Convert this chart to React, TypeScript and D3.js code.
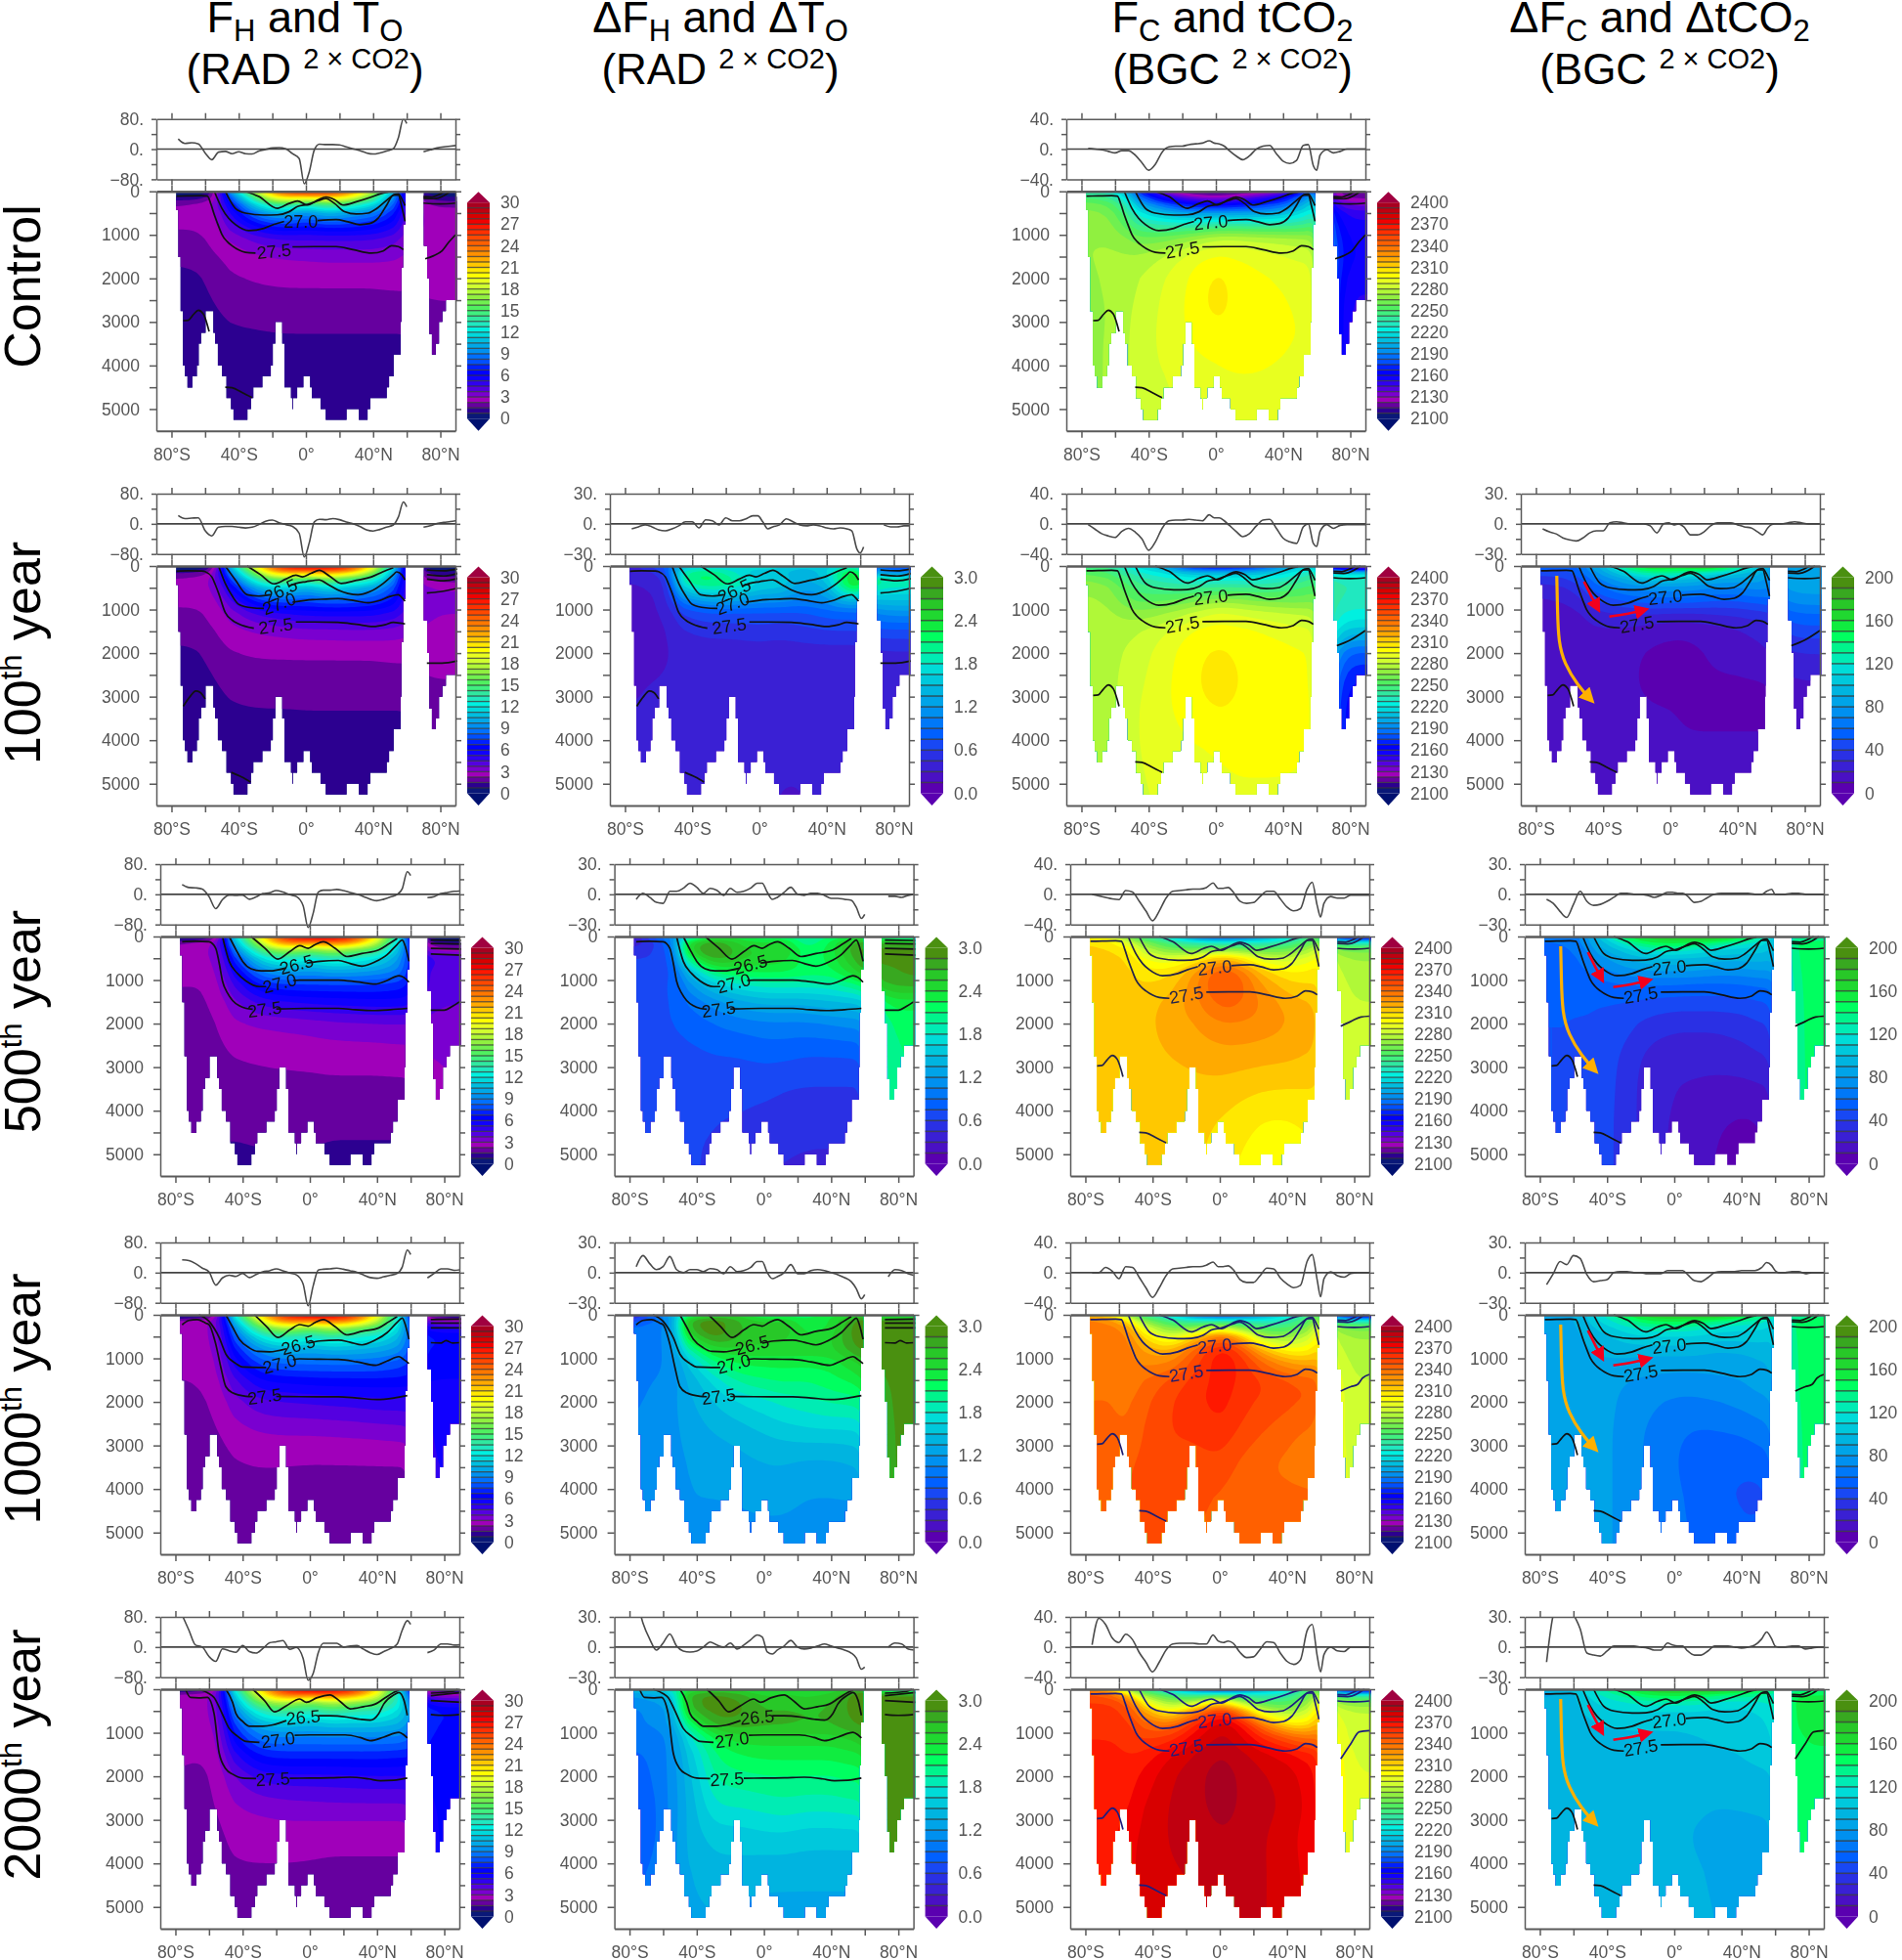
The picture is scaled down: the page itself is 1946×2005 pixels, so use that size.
// @ts-nocheck
import { useEffect, useRef } from 'react';
import * as d3 from 'd3';

// ---- shared grid and bathymetry ----
const fieldLats = [-78, -65, -55, -45, -30, -15, 0, 12, 25, 40, 52, 60, 72, 90];
const fieldDepths = [0, 50, 150, 300, 500, 800, 1100, 1500, 2000, 2700, 3400, 4200, 5500];

const atlanticLats = [-77.3, -75.9, -74.6, -73.2, -72, -70.5, -67.6, -64.9, -63.8, -62.4, -59.7, -55.1, -54.1, -52.4, -49.9, -47.3, -44.6, -43.1, -34.8, -32.7, -31.3, -25.9, -20.9, -19.7, -18.2, -14.1, -12.8, -8.9, -8.1, -7.7, -5.2, -1.5, 2.5, 3.5, 8.7, 11.8, 24.2, 31.5, 36.7, 38.3, 48.1, 49.5, 52.2, 56.4, 56.8, 57.8, 59.1];
const atlanticDepths = [430, 1510, 2750, 4000, 4250, 4510, 4250, 4000, 3500, 3250, 2750, 3250, 3500, 4000, 4250, 4750, 5000, 5250, 5000, 4750, 4500, 4250, 4000, 3500, 3000, 3500, 4500, 4750, 5000, 4750, 4500, 4250, 4500, 4750, 5000, 5250, 5000, 5250, 5000, 4750, 4500, 4250, 3750, 3000, 1750, 760, 760];
const arcticLats = [70.2, 72.2, 73.5, 75, 77.3, 79.2, 81.2, 83.3, 90];
const arcticDepths = [1250, 2000, 3280, 3750, 3500, 3000, 2750, 2500, 2500];

// ---- colour bars ----
const rainbowColors = ['#0a1878', '#2c0090', '#66009f', '#a000ba', '#7a00d0', '#5400e0', '#3000f0', '#1000ff', '#0000ff', '#0020ff', '#0050ff', '#0070ff', '#0090f0', '#00a8e8', '#00bee0', '#00d8dc', '#00f0e0', '#20e8c0', '#30e8a0', '#40f080', '#50f060', '#70f050', '#90f040', '#b0f838', '#d0ff30', '#e8ff20', '#ffff00', '#ffe800', '#ffc800', '#ffaa00', '#ff9000', '#ff7800', '#ff6000', '#ff4800', '#ff3000', '#ff1800', '#f00000', '#d80000', '#c00010', '#a80020'];
const deltaColors = ['#5a00b0', '#4a10c4', '#3a20d4', '#2a30e4', '#1848f4', '#0060ff', '#0078f8', '#0090f0', '#00a4e8', '#00b4e0', '#00c8dc', '#00dcd8', '#00ecb4', '#00f48c', '#00ff60', '#10ec40', '#20d830', '#28c828', '#38a820', '#4a9010'];
const tempTicks = [0, 3, 6, 9, 12, 15, 18, 21, 24, 27, 30];
const dicTicks = [2100, 2130, 2160, 2190, 2220, 2250, 2280, 2310, 2340, 2370, 2400];
const dTempTicks = [0, 0.6, 1.2, 1.8, 2.4, 3];
const dDicTicks = [0, 40, 80, 120, 160, 200];

// ---- surface flux lines ----
const fluxLats = [-76, -72, -68, -64, -60, -56, -52, -48, -44, -40, -36, -32, -28, -24, -20, -16, -12, -8, -4, -1, 2, 5, 8, 12, 16, 20, 24, 28, 32, 36, 40, 44, 48, 52, 55, 58, 60, 62, 66, 70, 74, 78, 82, 86, 90];
const fhControl = [27, 15, 17, 14, -10, -28, -8, -6, -12, -7, -12, -13, -5, -1, 3, 4, 1, -12, -25, -92, -60, -2, 13, 12, 12, 11, 6, 1, -4, -10, -13, -10, -5, 1, 30, 80, 68, null, null, -7, -2, 3, 6, 8, 10];
const fhRad100 = [22, 14, 15, 16, -18, -32, -9, -7, -7, -9, -11, -9, -2, 7, 10, 3, -2, -7, -25, -88, -50, 5, 12, 11, 14, 11, 5, 0, -7, -16, -19, -15, -9, -3, 18, 58, 45, null, null, -9, -5, 1, 4, 6, 9];
const fhRad500 = [26, 18, 17, 14, -6, -38, -14, -2, -3, -2, -13, -7, 2, 4, 10, 6, -1, -6, -30, -88, -50, 6, 11, 11, 13, 10, 5, 0, -6, -13, -17, -13, -7, 0, 15, 60, 50, null, null, -9, -6, 2, 5, 8, 9];
const fhRad1000 = [34, 32, 24, 12, 2, -33, -14, -7, -10, -2, -13, -5, 2, 5, 10, 5, -1, -6, -30, -88, -35, 7, 9, 10, 12, 9, 5, 1, -6, -13, -15, -11, -7, -2, 15, 60, 48, null, null, -14, -2, 10, 10, 6, 8];
const fhRad2000 = [85, 45, 5, 0, -25, -38, -5, -10, -14, 4, -12, -16, -4, 11, 14, 17, -6, -1, -30, -88, -70, -15, 10, 10, 10, 0, 3, 4, -6, -15, -20, -12, -4, 8, 45, 70, 60, null, null, -15, -8, 8, 8, 5, 6];
const dfhRad100 = [-5, -3, -1, -3, -6, -7, -5, -2, 2, 2, -4, 4, 3, -1, 6, 3, 3, 5, 8, 8, 2, -5, -3, -1, 5, 2, -1, -2, -1, -2, -4, -5, -4, -5, -7, -25, -29, -23, null, null, -1, -3, -3, -2, -2];
const dfhRad500 = [-5, 1, -3, -8, -9, 3, 3, 6, 11, 7, 1, 6, 4, -1, 6, 2, 3, 6, 11, 11, 2, -5, -3, 2, 7, 0, -1, 1, 1, -1, -4, -4, -5, -6, -13, -24, -20, null, null, null, -2, -2, -3, -1, 0];
const dfhRad1000 = [6, 17, 9, 3, 6, 16, 3, 0, 3, 3, 1, 4, 3, -1, 6, 1, 2, 5, 11, 11, 0, -6, -4, 0, 8, -1, -1, 2, 3, 2, 0, -2, -5, -9, -16, -26, -22, null, null, null, -4, 3, 2, -1, -3];
const dfhRad2000 = [50, 24, 8, -3, 4, 13, 1, -4, -5, -4, 0, 5, 2, 0, 4, -2, 2, 7, 12, 10, -5, -7, -3, 1, 6.5, 0, -2, -1, 1, 3, 1, -1, -3, -6, -11, -22, -20, null, null, null, 0, 4, 3, -2, -3];
const fcControl = [1, 0, -1, -3, -5, -2, -2, -8, -18, -28, -20, -4, 3, 4, 4, 6, 7, 8, 11, 8, 7, 4, -2, -9, -14, -9, 0, 4, 5, -6, -16, -19, -15, 5, 6, -22, -28, -8, -1, -5, -3, 0, 0, 0, 0];
const fcBgc100 = [-1, -7, -13, -16, -18, -10, -6, -11, -20, -35, -24, -6, 4, 5, 5, 6, 5, 4, 12, 8, 8, 4, -2, -10, -17, -13, -3, 5, 6, -6, -19, -24, -26, -4, 0, -26, -30, -10, -1, -6, -2, -1, -1, -1, -1];
const fcBgc500 = [0, -2, -4, -6, -7, 5, 3, -9, -22, -35, -22, -5, 4, 5, 6, 7, 7, 9, 15, 8, 8, 9, 3, -9, -12, -11, -3, 4, 4, -6, -17, -22, -19, 7, 16, -15, -30, -12, -3, -5, -5, -1, -1, -1, -1];
const fcBgc1000 = [0, 0, 7, 2, -8, 8, 7, -6, -20, -33, -20, -4, 5, 6, 7, 8, 8, 10, 14, 8, 8, 9, 4, -9, -13, -13, -4, 6, 5, -7, -15, -20, -17, 15, 24, -10, -32, -8, 1, -4, -6, -1, 0, 0, 0];
const fcBgc2000 = [3, 38, 30, 12, 6, 17, 10, -7, -20, -33, -20, -4, 4, 5, 5, 5, 4, 4, 16, 8, 6, 8, 5, -7, -14, -13, -3, 7, 6, -8, -19, -23, -17, 22, 30, -12, -33, -10, 0, -5, -6, 0, 0, 0, 0];
const dfcBgc100 = [-5, -8, -10, -14, -16, -17, -14, -9, -7, -7, 1, 2, 1, 0, 0, 0, -2, -9, 0, 1, -1, 0, -3, -11, -11, -8, -2, 1, 1, 1, -1, -3, -4, -8, -11, -4, -1, 0, 0, 1, 2, 1, 0, 0, 0];
const dfcBgc500 = [-5, -9, -17, -23, -10, 3, -7, -11, -10, -7, -3, 1, 1, 0, 0, -1, -3, -1, 2, 2, 1, 1, -2, -8, -7, -3, 0, 1, 1, 1, 1, 1, 0, 0, 3, 5, 0, 0, 0, 1, 1, 0, 0, 0, 0];
const dfcBgc1000 = [-12, -1, 11, 8, 17, 14, -2, -9, -8, -7, 0, 1, 1, 0, 0, -1, -1, -1, 2, 2, 2, 2, -2, -8, -9, -5, 0, 1, 1, 1, 2, 2, 2, 5, 10, 7, 2, 0, 0, 1, 1, -1, 0, 0, 0];
const dfcBgc2000 = [-15, 32, 45, 50, 33, 18, -6, -8, -9, -4, 1, 1, 1, 1, 0, -1, -3, -3, 4, 2, 1, 1, -4, -8, -8, -4, 1, 1, 1, 0, -1, 0, 2, 8, 15, 8, 1, 0, 0, 1, 1, -2, -1, 0, 0];

// ---- temperature sections ----
const tempControl = [
  [0, 0, 1, 10, 18, 25, 27, 26, 25, 18, 10, 5, 0, 0],
  [0, 0, 1.5, 9, 17, 24, 25, 25, 23, 17, 10, 5, 0, 0],
  [1, 1, 2, 7.5, 15, 21, 20, 21, 20, 15, 9, 5, 1, 1],
  [2.2, 2.5, 3, 6, 12, 15, 13, 15, 14, 12, 8, 5, 2, 2],
  [2.5, 2.5, 2.7, 5, 9, 11, 9, 11, 10, 9, 7, 4, 2.7, 2.7],
  [2.3, 2.3, 2.6, 4, 6, 7, 6.5, 7, 7, 6.5, 5.5, 3.8, 2.8, 2.8],
  [2.1, 2.1, 2.4, 3, 4, 4.5, 4.5, 4.5, 4.5, 4.5, 4, 3.3, 2.6, 2.6],
  [1.7, 1.8, 2.2, 2.4, 2.8, 3, 3.1, 3.2, 3.2, 3.2, 3.1, 2.9, 2.6, 2.8],
  [1.2, 1.3, 1.8, 2.2, 2.3, 2.4, 2.4, 2.4, 2.4, 2.4, 2.5, 2.5, 2.4, 2.4],
  [1, 1.1, 1.4, 1.8, 1.9, 1.9, 1.9, 1.9, 1.9, 1.9, 1.9, 1.9, 2.2, 2.2],
  [0.9, 0.9, 1, 1.2, 1.3, 1.4, 1.4, 1.4, 1.4, 1.4, 1.4, 1.4, 2, 2],
  [0.8, 0.8, 0.9, 1, 1, 1, 1, 1, 1, 1, 1, 1, 2, 2],
  [0.8, 0.8, 0.8, 0.8, 0.8, 0.8, 0.8, 0.8, 0.8, 0.8, 0.8, 0.8, 2, 2],
];
const tempRad100 = [
  [0, 0, 1, 11, 20, 27, 29, 28, 27, 20, 11, 5, 0, 0],
  [0, 0, 1.5, 10, 19, 26, 27, 27, 26, 19, 11, 5, 0, 0],
  [1.5, 1.5, 2.5, 9, 17, 23, 22, 23, 22, 17, 10, 5, 1, 1],
  [2.3, 2.6, 3, 7, 14, 16.5, 14.5, 16.5, 15, 13.5, 9, 5, 1.8, 1.8],
  [2.6, 2.7, 3, 5.5, 10.5, 12, 10, 12, 11, 10, 8, 4.5, 3, 3],
  [2.4, 2.4, 2.7, 4, 7, 8, 7.5, 8, 8, 7.5, 6.5, 4.5, 3.2, 3.2],
  [2.1, 2.1, 2.5, 3.2, 4.5, 5, 5.5, 5.5, 5.5, 5.5, 5, 4.3, 3, 3],
  [1.8, 1.8, 2.2, 2.7, 3, 3.2, 3.4, 3.4, 3.5, 3.5, 3.4, 3.2, 2.8, 2.8],
  [1.3, 1.4, 1.8, 2.2, 2.3, 2.3, 2.3, 2.3, 2.3, 2.3, 2.4, 2.4, 2.5, 2.5],
  [1, 1.1, 1.4, 1.8, 1.9, 1.9, 1.9, 1.9, 1.9, 1.9, 1.9, 1.9, 2.2, 2.2],
  [0.9, 0.9, 1, 1.3, 1.4, 1.4, 1.45, 1.45, 1.45, 1.45, 1.45, 1.45, 2, 2],
  [0.8, 0.8, 0.9, 1, 1, 1, 1, 1, 1, 1, 1, 1, 2, 2],
  [0.8, 0.8, 0.8, 0.8, 0.8, 0.8, 0.8, 0.8, 0.8, 0.8, 0.8, 0.8, 2, 2],
];
const tempRad500 = [
  [0, 0.5, 1.5, 12, 20, 27, 29, 28, 27, 20, 13, 6, 0, 0],
  [0.5, 1, 2, 11, 19, 26, 27, 27, 26, 19, 13, 6, 0, 0],
  [2, 2.7, 3, 10, 18, 24, 23, 24, 23, 18, 12, 7, 1, 1],
  [2.7, 2.9, 3, 8.5, 15, 18, 16, 18, 16.5, 15, 11, 7, 2.5, 2.5],
  [2.9, 2.9, 3, 7, 12, 13.5, 12, 13.5, 13, 12, 10, 7, 4.5, 4.5],
  [2.7, 2.6, 2.9, 5.5, 9, 10, 9.5, 10, 10, 9.5, 9, 7, 4, 4],
  [2.3, 2.2, 2.8, 4.5, 7, 7.5, 7.5, 7.5, 7.5, 7.5, 7.2, 6.7, 4, 4],
  [2, 2.1, 2.6, 3.4, 4.8, 5.2, 5.5, 5.6, 5.7, 5.8, 5.8, 5.7, 3.8, 3.8],
  [1.6, 1.8, 2.3, 2.9, 3, 3.1, 3.2, 3.4, 3.5, 3.6, 3.6, 3.6, 3.5, 3.5],
  [1.5, 1.7, 2, 2.3, 2.4, 2.5, 2.6, 2.6, 2.6, 2.6, 2.7, 2.7, 3, 3],
  [1.5, 1.6, 1.8, 1.9, 2, 2, 2, 2.1, 2.1, 2.1, 2.1, 2.1, 3, 3],
  [1.5, 1.5, 1.6, 1.6, 1.7, 1.7, 1.7, 1.6, 1.6, 1.6, 1.6, 1.6, 3, 3],
  [1.5, 1.5, 1.4, 1.3, 1.3, 1.3, 1.3, 1.3, 1.3, 1.3, 1.3, 1.3, 3, 3],
];
const tempRad1000 = [
  [0.2, 0.5, 2, 12, 21, 27, 29, 28, 27, 20, 13, 7, 1, 1],
  [0.7, 1, 2.5, 12, 20, 26, 27, 27, 26, 19, 13, 7, 1, 1],
  [2.5, 2.9, 3, 10.5, 18.5, 24, 23, 24, 23, 18, 12.5, 8, 3, 3],
  [2.9, 2.9, 3, 9, 15.5, 18, 16, 18, 16.5, 15, 12, 8, 5, 5],
  [2.9, 2.9, 3, 8, 12.5, 14, 12.5, 14, 13, 12.5, 11, 8, 6.8, 6.8],
  [2.8, 2.9, 2.9, 6.5, 9.5, 10.5, 10, 10.5, 10.5, 10, 9.5, 8, 6.5, 6.5],
  [2.5, 2.6, 2.9, 5.5, 8, 8.5, 8.5, 8.5, 8.5, 8.5, 8, 7.5, 6.3, 6.3],
  [2.2, 2.3, 2.8, 4.2, 6, 6.2, 6.4, 6.5, 6.5, 6.5, 6.5, 6.4, 6, 6],
  [2, 2.1, 2.5, 3.4, 4.3, 4.5, 4.6, 4.7, 4.8, 5, 5, 5, 5.5, 5.5],
  [1.8, 1.9, 2.2, 2.6, 2.9, 3, 3, 3.05, 3.1, 3.2, 3.3, 3.4, 5.5, 5.5],
  [1.7, 1.7, 1.9, 2.2, 2.3, 2.25, 2.2, 2.2, 2.2, 2.2, 2.2, 2.2, 5.5, 5.5],
  [1.6, 1.6, 1.8, 1.9, 1.9, 1.9, 1.9, 1.9, 1.9, 1.9, 1.9, 1.9, 5, 5],
  [1.5, 1.5, 1.7, 1.8, 1.8, 1.8, 1.8, 1.8, 1.8, 1.8, 1.6, 1.6, 5, 5],
];
const tempRad2000 = [
  [0.5, 0.5, 2, 13, 22, 27, 29, 28, 27, 21, 13, 7, 1, 1],
  [1, 1.5, 2.8, 12, 20, 26, 27, 27, 26, 20, 13, 7, 1, 1],
  [2.6, 2.9, 3, 11, 19, 24, 23, 24, 23, 19, 13, 8, 3, 3],
  [2.9, 2.9, 3, 10, 16.5, 18, 16, 18, 17, 16, 13, 9, 5, 5],
  [2.9, 2.9, 3, 9, 13.5, 14.5, 13, 14.5, 13.5, 13.5, 12, 10, 6.8, 6.8],
  [2.8, 2.9, 2.9, 7.5, 10.5, 11, 10.5, 11, 11, 11, 10.5, 9.5, 6.6, 6.6],
  [2.6, 2.6, 2.8, 6.5, 9, 9, 9, 9, 9, 9, 9, 8.5, 6.5, 6.5],
  [2.4, 2.3, 2.7, 5, 7, 7.2, 7.2, 7.2, 7.2, 7.2, 7, 7, 6.4, 6.4],
  [2.2, 2, 2.5, 3.6, 4.8, 5, 5, 5, 5.1, 5.2, 5.2, 5.2, 6.4, 6.4],
  [2, 1.9, 2.3, 2.9, 3.1, 3.3, 3.4, 3.5, 3.5, 3.5, 3.5, 3.5, 6.2, 6.2],
  [1.8, 1.8, 2, 2.5, 2.6, 2.6, 2.5, 2.4, 2.4, 2.4, 2.4, 2.4, 6.2, 6.2],
  [1.7, 1.7, 1.9, 2.1, 2.1, 2.1, 2.1, 2.1, 2.1, 2.1, 2.1, 2.1, 6.2, 6.2],
  [1.7, 1.7, 1.9, 2, 2, 2, 2, 2, 2, 2, 2, 2, 6.2, 6.2],
];

// ---- temperature anomaly sections ----
const dTempRad100 = [
  [0.3, 0.6, 0.8, 1.4, 1.6, 1.6, 1.7, 1.6, 1.5, 1.5, 1.8, 1.6, 0.5, 0.5],
  [0.3, 0.6, 0.7, 1.7, 1.8, 1.7, 1.7, 1.7, 1.5, 1.6, 1.9, 1.9, 0.8, 0.8],
  [0.3, 0.4, 0.7, 2, 2.1, 1.8, 1.5, 1.6, 1.3, 1.6, 2.3, 2.3, 1, 1.1],
  [0.3, 0.3, 0.5, 2.1, 2.2, 2, 1.5, 1.7, 1.3, 1.5, 2.4, 2.4, 2, 2],
  [0.3, 0.3, 0.4, 1.8, 2, 1.9, 1.6, 1.6, 1.2, 1.3, 2.3, 2.3, 1.8, 1.8],
  [0.3, 0.25, 0.4, 1, 1.25, 1.2, 1.1, 1.1, 1, 1.1, 1.4, 1.3, 1.5, 1.5],
  [0.3, 0.25, 0.35, 0.6, 0.7, 0.7, 0.7, 0.7, 0.7, 0.8, 0.8, 0.8, 1.1, 1.1],
  [0.3, 0.2, 0.3, 0.45, 0.5, 0.5, 0.55, 0.5, 0.55, 0.6, 0.6, 0.6, 0.7, 0.7],
  [0.3, 0.2, 0.3, 0.32, 0.35, 0.35, 0.35, 0.35, 0.35, 0.35, 0.35, 0.35, 0.4, 0.4],
  [0.25, 0.32, 0.32, 0.32, 0.33, 0.33, 0.33, 0.33, 0.33, 0.33, 0.33, 0.33, 0.33, 0.33],
  [0.32, 0.32, 0.33, 0.33, 0.33, 0.33, 0.33, 0.33, 0.33, 0.33, 0.33, 0.33, 0.33, 0.33],
  [0.35, 0.35, 0.35, 0.35, 0.35, 0.35, 0.35, 0.33, 0.33, 0.33, 0.33, 0.33, 0.35, 0.35],
  [0.35, 0.35, 0.35, 0.35, 0.35, 0.35, 0.33, 0.28, 0.28, 0.33, 0.35, 0.35, 0.35, 0.35],
];
const dTempRad500 = [
  [0.1, 0.9, 1, 1.6, 2.3, 2.2, 1.9, 2, 1.7, 2, 2.1, 2.2, 1.8, 1.6],
  [0.2, 0.8, 1, 2, 2.5, 2.4, 2.2, 2.3, 1.9, 2.2, 2.4, 2.5, 2.2, 2],
  [0.3, 0.6, 0.9, 2.5, 2.9, 2.5, 2.4, 2.5, 1.9, 2.3, 2.7, 2.8, 2.7, 2.7],
  [0.5, 0.6, 0.8, 2.6, 3, 2.6, 2.5, 2.6, 2.1, 2.3, 2.8, 2.9, 2.9, 2.9],
  [0.6, 0.6, 0.75, 2.2, 2.9, 2.6, 2.5, 2.5, 2.1, 2.3, 2.7, 2.9, 2.9, 2.9],
  [0.65, 0.65, 0.7, 1.4, 2.2, 2.3, 2.3, 2.3, 2.2, 2.2, 2.5, 2.7, 2.8, 2.9],
  [0.7, 0.7, 0.75, 1.1, 1.6, 1.8, 1.9, 1.9, 1.9, 1.9, 2.1, 2.2, 2.8, 2.8],
  [0.7, 0.7, 0.75, 0.9, 1.1, 1.3, 1.4, 1.4, 1.4, 1.5, 1.5, 1.6, 2.3, 2.3],
  [0.7, 0.7, 0.75, 0.8, 0.9, 0.95, 1, 1, 1, 1.05, 1.1, 1.1, 2.15, 2.15],
  [0.7, 0.7, 0.7, 0.7, 0.75, 0.75, 0.8, 0.8, 0.75, 0.75, 0.75, 0.8, 2.1, 2.1],
  [0.65, 0.65, 0.65, 0.65, 0.65, 0.65, 0.65, 0.6, 0.6, 0.6, 0.6, 0.6, 2.1, 2.1],
  [0.65, 0.65, 0.65, 0.6, 0.6, 0.6, 0.55, 0.55, 0.5, 0.5, 0.5, 0.5, 2.1, 2.1],
  [0.65, 0.65, 0.65, 0.6, 0.6, 0.5, 0.45, 0.4, 0.4, 0.4, 0.4, 0.4, 2.1, 2.1],
];
const dTempRad1000 = [
  [0.3, 1, 1.2, 2, 2.5, 2.4, 2, 2, 2.1, 2.2, 2.4, 2.5, 1.8, 1.8],
  [0.4, 0.9, 1.2, 2.4, 2.7, 2.6, 2.3, 2.3, 2.2, 2.4, 2.6, 2.7, 2.5, 2.5],
  [0.7, 0.9, 1.1, 2.8, 3, 2.7, 2.5, 2.6, 2.2, 2.4, 2.8, 3, 2.9, 2.9],
  [0.9, 1, 1.1, 2.8, 3, 2.7, 2.6, 2.7, 2.3, 2.4, 2.9, 3, 3, 3],
  [1, 1, 1.1, 2.5, 3, 2.7, 2.6, 2.6, 2.4, 2.5, 2.9, 3, 3, 3],
  [1, 1, 1.1, 1.9, 2.5, 2.5, 2.5, 2.5, 2.5, 2.5, 2.8, 2.9, 3, 3],
  [1, 1, 1.1, 1.5, 2.1, 2.3, 2.3, 2.3, 2.3, 2.3, 2.5, 2.6, 3, 3],
  [1, 1.05, 1.1, 1.35, 1.7, 2, 2.1, 2.15, 2.1, 2.2, 2.3, 2.4, 2.9, 2.9],
  [1, 1.1, 1.15, 1.3, 1.5, 1.65, 1.75, 1.85, 1.9, 2, 2, 2.1, 2.9, 2.9],
  [1.1, 1.1, 1.15, 1.25, 1.35, 1.4, 1.5, 1.55, 1.6, 1.6, 1.6, 1.65, 2.9, 2.9],
  [1.1, 1.1, 1.15, 1.2, 1.25, 1.3, 1.35, 1.35, 1.3, 1.3, 1.35, 1.4, 2.9, 2.9],
  [1.1, 1.1, 1.15, 1.2, 1.2, 1.2, 1.25, 1.25, 1.2, 1.2, 1.2, 1.2, 2.9, 2.9],
  [1.1, 1.1, 1.15, 1.2, 1.15, 1.15, 1.1, 1.1, 1.1, 1.1, 1.1, 1.1, 2.9, 2.9],
];
const dTempRad2000 = [
  [1.5, 1.7, 1.9, 2.2, 2.5, 2.4, 2.2, 2.3, 2.3, 2.3, 2.5, 2.7, 1.5, 1.7],
  [1.4, 1.5, 1.7, 2.5, 2.7, 2.6, 2.4, 2.5, 2.4, 2.5, 2.7, 2.9, 2.2, 2.2],
  [1.2, 1.3, 1.5, 2.8, 2.9, 2.8, 2.5, 2.6, 2.5, 2.6, 2.9, 3, 2.9, 2.9],
  [1.1, 1.2, 1.3, 2.8, 2.95, 2.9, 2.6, 2.7, 2.6, 2.7, 2.9, 3, 3, 3],
  [1, 1.1, 1.2, 2.7, 2.95, 2.9, 2.7, 2.7, 2.7, 2.7, 2.9, 3, 3, 3],
  [1, 1.1, 1.2, 2.1, 2.8, 2.8, 2.75, 2.75, 2.7, 2.7, 2.85, 2.9, 3, 3],
  [0.9, 0.95, 1.1, 1.7, 2.3, 2.5, 2.5, 2.5, 2.5, 2.5, 2.6, 2.7, 3, 3],
  [0.9, 0.9, 1.1, 1.5, 2.1, 2.25, 2.3, 2.3, 2.3, 2.3, 2.35, 2.4, 3, 3],
  [0.85, 0.9, 1.1, 1.4, 2, 2.05, 2.1, 2.1, 2.1, 2.1, 2.15, 2.15, 3, 3],
  [0.85, 0.85, 1.1, 1.35, 1.8, 1.8, 1.85, 1.9, 1.85, 1.85, 1.9, 1.9, 3, 3],
  [0.85, 0.85, 1.1, 1.4, 1.55, 1.55, 1.6, 1.6, 1.55, 1.55, 1.55, 1.55, 3, 3],
  [0.9, 0.9, 1.15, 1.35, 1.45, 1.45, 1.4, 1.4, 1.4, 1.4, 1.4, 1.4, 3, 3],
  [0.9, 0.9, 1.15, 1.3, 1.3, 1.3, 1.25, 1.25, 1.25, 1.25, 1.25, 1.25, 3, 3],
];

// ---- tCO2 sections ----
const dicControl = [
  [2235, 2230, 2210, 2170, 2130, 2115, 2110, 2115, 2120, 2135, 2170, 2195, 2115, 2115],
  [2240, 2235, 2215, 2175, 2135, 2118, 2112, 2118, 2125, 2140, 2175, 2200, 2115, 2115],
  [2250, 2245, 2225, 2185, 2155, 2135, 2130, 2135, 2145, 2160, 2190, 2210, 2120, 2120],
  [2262, 2258, 2240, 2200, 2180, 2165, 2160, 2165, 2170, 2180, 2205, 2222, 2135, 2135],
  [2268, 2265, 2250, 2220, 2205, 2195, 2195, 2195, 2198, 2205, 2220, 2232, 2150, 2150],
  [2272, 2270, 2258, 2242, 2238, 2238, 2245, 2245, 2242, 2242, 2245, 2255, 2155, 2155],
  [2272, 2272, 2268, 2260, 2262, 2272, 2282, 2282, 2280, 2278, 2275, 2272, 2158, 2158],
  [2272, 2274, 2274, 2274, 2282, 2292, 2297, 2295, 2292, 2288, 2286, 2284, 2160, 2160],
  [2270, 2274, 2276, 2280, 2288, 2296, 2306, 2300, 2297, 2294, 2292, 2290, 2155, 2155],
  [2270, 2272, 2278, 2282, 2290, 2297, 2307, 2300, 2298, 2296, 2294, 2290, 2150, 2150],
  [2272, 2272, 2278, 2284, 2290, 2296, 2298, 2298, 2297, 2296, 2295, 2292, 2150, 2150],
  [2272, 2272, 2278, 2284, 2288, 2292, 2294, 2296, 2296, 2294, 2292, 2290, 2150, 2150],
  [2272, 2272, 2278, 2282, 2284, 2286, 2288, 2288, 2288, 2288, 2288, 2288, 2150, 2150],
];
const dicBgc100 = [
  [2245, 2240, 2225, 2215, 2195, 2160, 2150, 2150, 2170, 2195, 2210, 2215, 2130, 2130],
  [2250, 2245, 2230, 2220, 2205, 2175, 2170, 2172, 2180, 2200, 2215, 2220, 2140, 2140],
  [2255, 2250, 2238, 2228, 2218, 2205, 2205, 2205, 2205, 2215, 2228, 2235, 2215, 2215],
  [2265, 2260, 2248, 2238, 2230, 2225, 2225, 2225, 2225, 2230, 2240, 2245, 2232, 2232],
  [2270, 2268, 2255, 2245, 2242, 2240, 2242, 2242, 2240, 2245, 2250, 2255, 2235, 2235],
  [2275, 2272, 2262, 2255, 2258, 2262, 2272, 2270, 2265, 2262, 2262, 2265, 2232, 2232],
  [2275, 2275, 2270, 2268, 2272, 2282, 2290, 2288, 2285, 2282, 2280, 2278, 2225, 2225],
  [2275, 2277, 2278, 2280, 2288, 2296, 2300, 2298, 2296, 2292, 2290, 2288, 2210, 2210],
  [2275, 2277, 2280, 2284, 2292, 2300, 2304, 2302, 2300, 2298, 2296, 2294, 2180, 2180],
  [2275, 2277, 2282, 2286, 2294, 2300, 2308, 2303, 2300, 2298, 2296, 2294, 2165, 2165],
  [2276, 2276, 2282, 2288, 2294, 2298, 2302, 2301, 2300, 2299, 2298, 2296, 2160, 2160],
  [2276, 2276, 2282, 2288, 2292, 2294, 2296, 2298, 2298, 2298, 2296, 2294, 2160, 2160],
  [2276, 2276, 2282, 2286, 2288, 2290, 2290, 2292, 2292, 2292, 2292, 2292, 2160, 2160],
];
const dicBgc500 = [
  [2300, 2290, 2260, 2240, 2215, 2180, 2150, 2160, 2185, 2215, 2240, 2255, 2135, 2135],
  [2305, 2295, 2270, 2250, 2230, 2200, 2190, 2195, 2205, 2225, 2245, 2260, 2170, 2170],
  [2310, 2305, 2290, 2265, 2245, 2235, 2230, 2232, 2232, 2240, 2255, 2270, 2235, 2235],
  [2312, 2310, 2305, 2280, 2260, 2258, 2265, 2262, 2255, 2258, 2272, 2288, 2262, 2262],
  [2313, 2312, 2310, 2295, 2285, 2300, 2320, 2310, 2285, 2280, 2290, 2300, 2272, 2272],
  [2313, 2313, 2312, 2306, 2306, 2325, 2350, 2340, 2315, 2302, 2304, 2308, 2276, 2276],
  [2313, 2313, 2313, 2310, 2312, 2330, 2352, 2345, 2325, 2312, 2310, 2310, 2278, 2278],
  [2313, 2313, 2314, 2314, 2320, 2330, 2345, 2342, 2332, 2322, 2318, 2316, 2280, 2280],
  [2313, 2313, 2314, 2316, 2320, 2325, 2332, 2332, 2330, 2326, 2320, 2318, 2282, 2282],
  [2313, 2312, 2313, 2315, 2318, 2320, 2322, 2322, 2321, 2320, 2318, 2316, 2282, 2282],
  [2312, 2312, 2312, 2313, 2314, 2316, 2316, 2314, 2312, 2311, 2311, 2310, 2284, 2284],
  [2318, 2316, 2312, 2311, 2310, 2311, 2310, 2306, 2302, 2302, 2304, 2306, 2284, 2284],
  [2318, 2316, 2314, 2316, 2318, 2312, 2306, 2300, 2296, 2296, 2298, 2300, 2284, 2284],
];
const dicBgc1000 = [
  [2310, 2300, 2265, 2235, 2210, 2170, 2145, 2155, 2185, 2215, 2240, 2262, 2135, 2135],
  [2325, 2312, 2280, 2250, 2230, 2200, 2190, 2195, 2205, 2225, 2245, 2270, 2170, 2170],
  [2335, 2330, 2310, 2265, 2245, 2235, 2240, 2235, 2230, 2235, 2252, 2280, 2235, 2235],
  [2338, 2336, 2328, 2290, 2260, 2262, 2285, 2265, 2250, 2248, 2265, 2295, 2262, 2262],
  [2338, 2338, 2334, 2310, 2280, 2310, 2345, 2320, 2270, 2265, 2280, 2305, 2272, 2272],
  [2338, 2338, 2336, 2325, 2315, 2345, 2368, 2355, 2320, 2298, 2300, 2315, 2276, 2276],
  [2338, 2338, 2335, 2330, 2330, 2352, 2370, 2362, 2342, 2324, 2320, 2322, 2278, 2278],
  [2338, 2340, 2334, 2340, 2350, 2358, 2366, 2362, 2356, 2350, 2346, 2342, 2280, 2280],
  [2340, 2340, 2338, 2345, 2355, 2360, 2368, 2358, 2354, 2350, 2348, 2344, 2282, 2282],
  [2342, 2342, 2340, 2348, 2356, 2356, 2360, 2354, 2348, 2342, 2338, 2336, 2282, 2282],
  [2344, 2344, 2346, 2350, 2352, 2352, 2354, 2346, 2340, 2338, 2336, 2334, 2284, 2284],
  [2345, 2345, 2347, 2352, 2354, 2350, 2346, 2342, 2342, 2342, 2342, 2342, 2284, 2284],
  [2345, 2345, 2350, 2354, 2354, 2346, 2344, 2340, 2340, 2340, 2340, 2340, 2284, 2284],
];
const dicBgc2000 = [
  [2320, 2305, 2270, 2240, 2210, 2170, 2150, 2160, 2190, 2215, 2245, 2268, 2135, 2135],
  [2340, 2325, 2285, 2250, 2230, 2205, 2195, 2200, 2210, 2225, 2250, 2275, 2170, 2170],
  [2350, 2345, 2320, 2270, 2250, 2240, 2255, 2240, 2235, 2235, 2255, 2285, 2240, 2240],
  [2355, 2355, 2345, 2300, 2265, 2275, 2310, 2275, 2250, 2250, 2268, 2300, 2265, 2265],
  [2358, 2358, 2352, 2325, 2290, 2330, 2365, 2335, 2280, 2265, 2280, 2315, 2280, 2280],
  [2360, 2360, 2358, 2345, 2335, 2365, 2385, 2375, 2340, 2305, 2305, 2325, 2284, 2284],
  [2362, 2362, 2360, 2352, 2355, 2375, 2388, 2380, 2362, 2345, 2335, 2340, 2284, 2284],
  [2365, 2365, 2362, 2364, 2378, 2386, 2394, 2388, 2382, 2375, 2368, 2362, 2286, 2286],
  [2368, 2368, 2366, 2372, 2384, 2390, 2397, 2392, 2386, 2382, 2374, 2368, 2288, 2288],
  [2368, 2368, 2368, 2378, 2386, 2390, 2396, 2392, 2388, 2384, 2376, 2370, 2288, 2288],
  [2368, 2368, 2374, 2380, 2386, 2388, 2392, 2390, 2386, 2380, 2374, 2368, 2288, 2288],
  [2368, 2368, 2374, 2382, 2384, 2386, 2388, 2388, 2386, 2382, 2375, 2370, 2288, 2288],
  [2368, 2368, 2374, 2380, 2382, 2384, 2386, 2386, 2386, 2382, 2376, 2372, 2288, 2288],
];

// ---- tCO2 anomaly sections ----
const dDicBgc100 = [
  [55, 50, 60, 80, 130, 160, 150, 160, 170, 130, 110, 90, 85, 85],
  [55, 50, 60, 80, 125, 160, 155, 155, 165, 130, 105, 85, 80, 85],
  [45, 45, 55, 75, 110, 135, 135, 130, 120, 105, 95, 80, 85, 85],
  [35, 38, 45, 65, 85, 105, 105, 100, 90, 85, 85, 75, 90, 90],
  [25, 28, 35, 55, 70, 75, 75, 75, 70, 70, 75, 70, 85, 85],
  [18, 20, 25, 40, 50, 55, 55, 55, 50, 50, 55, 55, 75, 75],
  [15, 15, 18, 25, 30, 30, 28, 28, 30, 32, 35, 38, 60, 60],
  [12, 13, 15, 18, 18, 14, 11, 11, 14, 18, 22, 25, 45, 45],
  [12, 13, 14, 15, 13, 9, 7, 8, 11, 14, 18, 20, 30, 30],
  [13, 14, 14, 14, 12, 9, 7, 7, 9, 8, 8, 9, 18, 18],
  [13, 14, 14, 14, 12, 11, 11, 8, 8, 8, 8, 8, 14, 14],
  [13, 14, 14, 14, 12, 12, 12, 12, 12, 12, 12, 12, 14, 14],
  [13, 14, 14, 14, 12, 12, 12, 12, 12, 12, 12, 12, 14, 14],
];
const dDicBgc500 = [
  [65, 60, 70, 100, 150, 165, 160, 165, 170, 150, 130, 100, 130, 130],
  [62, 60, 70, 95, 145, 165, 165, 165, 170, 150, 125, 100, 135, 135],
  [60, 60, 70, 90, 125, 150, 155, 150, 140, 125, 115, 100, 145, 145],
  [58, 58, 65, 85, 105, 125, 125, 120, 110, 105, 105, 95, 145, 145],
  [55, 55, 62, 75, 90, 100, 100, 100, 95, 95, 95, 90, 145, 145],
  [52, 52, 58, 65, 75, 80, 80, 80, 75, 75, 80, 78, 145, 145],
  [50, 50, 52, 56, 60, 60, 60, 58, 58, 60, 62, 62, 145, 145],
  [50, 50, 50, 50, 50, 48, 46, 46, 46, 46, 50, 52, 145, 145],
  [50, 50, 50, 50, 45, 36, 32, 32, 32, 35, 40, 42, 145, 145],
  [50, 50, 50, 48, 38, 26, 24, 24, 24, 26, 30, 34, 145, 145],
  [50, 50, 50, 48, 36, 24, 20, 19, 18, 18, 20, 22, 145, 145],
  [50, 50, 50, 46, 36, 24, 19, 15, 10, 8, 9, 16, 145, 145],
  [50, 50, 50, 46, 36, 24, 17, 13, 9, 8, 8, 14, 145, 145],
];
const dDicBgc1000 = [
  [85, 85, 95, 110, 150, 170, 165, 165, 170, 155, 140, 115, 130, 130],
  [85, 85, 95, 110, 145, 165, 165, 165, 170, 155, 135, 115, 140, 140],
  [85, 85, 95, 108, 130, 150, 155, 150, 140, 130, 125, 110, 145, 145],
  [85, 85, 92, 102, 115, 128, 128, 125, 115, 112, 112, 105, 146, 146],
  [85, 85, 90, 95, 105, 110, 110, 110, 105, 105, 105, 100, 146, 146],
  [85, 85, 88, 92, 95, 95, 95, 95, 90, 92, 95, 95, 146, 146],
  [85, 85, 86, 88, 88, 85, 85, 85, 85, 85, 90, 92, 146, 146],
  [85, 85, 85, 85, 80, 78, 76, 76, 78, 80, 85, 88, 146, 146],
  [85, 85, 85, 85, 78, 72, 68, 68, 70, 74, 78, 80, 146, 146],
  [85, 85, 85, 85, 76, 68, 62, 58, 58, 60, 65, 70, 145, 145],
  [85, 85, 85, 85, 76, 68, 60, 56, 55, 53, 54, 60, 145, 145],
  [85, 85, 85, 85, 76, 68, 62, 58, 52, 46, 46, 54, 145, 145],
  [85, 85, 85, 85, 76, 68, 62, 60, 60, 56, 56, 60, 145, 145],
];
const dDicBgc2000 = [
  [105, 110, 120, 125, 150, 165, 165, 165, 168, 160, 150, 125, 130, 130],
  [88, 90, 110, 122, 145, 165, 165, 165, 168, 155, 145, 125, 140, 140],
  [88, 92, 105, 118, 132, 150, 155, 150, 140, 135, 130, 125, 152, 152],
  [92, 94, 102, 112, 120, 125, 125, 125, 118, 115, 120, 122, 155, 155],
  [94, 95, 100, 105, 110, 110, 110, 110, 108, 108, 112, 118, 155, 155],
  [94, 95, 97, 100, 102, 102, 102, 102, 102, 102, 108, 114, 155, 155],
  [93, 94, 95, 97, 98, 98, 98, 100, 102, 102, 106, 110, 152, 152],
  [93, 94, 95, 95, 95, 95, 95, 96, 98, 101, 105, 108, 148, 148],
  [93, 94, 95, 95, 95, 95, 94, 94, 94, 95, 97, 99, 147, 147],
  [94, 94, 95, 95, 95, 94, 92, 92, 90, 91, 92, 93, 146, 146],
  [94, 94, 95, 95, 95, 94, 92, 89, 86, 85, 86, 88, 146, 146],
  [94, 94, 95, 95, 95, 94, 93, 92, 88, 85, 85, 88, 146, 146],
  [94, 94, 95, 95, 95, 94, 93, 92, 91, 85, 85, 88, 146, 146],
];

// ---- isopycnals, [lat, depth] with null where a label breaks the line ----
const isoControl = [
  [[-36, 0], [-28, 120], [-17, 390], [-10, 280], [-5, 225], [1, 315], [7, 200], [12, 130], [17, 190], [22, 315], [30, 240], [39, 130], [44, 60], [49, 15]],
  [[-48, 0], [-42, 390], [-36, 500], [-25, 545], [-17, 540], [-10, 470], [-5, 350], [1, 300], [7, 220], [12, 165], [17, 280], [23, 465], [30, 520], [37, 500], [42, 400], [47, 240], [53, 70], [55, 60], [57, 165], [59, 330]],
  [[-54.5, 0], [-50, 390], [-46, 620], [-42, 760], [-34, 900], [-25, 850], [-19, 760], [-13, 690], null, [7, 670], [18, 650], [25, 700], [32, 765], [38, 740], [43, 615], [48, 320], [52, 90], [55, 90], [57, 350], [59, 690]],
  [[-77, 110], [-70, 105], [-62, 100], [-58.6, 110], [-56.5, 300], [-54.5, 540], [-52, 800], [-50, 990], [-47, 1150], [-44, 1250], [-36, 1400], [-30, 1420], null, [-8, 1275], [5, 1270], [18, 1270], [28, 1340], [39, 1420], [46, 1370], [51, 1250], [55, 1270], [58, 1340]],
  [[-73, 2970], [-70, 2960], [-67, 2830], [-64, 2730], [-61, 2820], [-57.6, 3220]],
  [[-48, 4500], [-44, 4510], [-38, 4620], [-32, 4740]],
  [[70, 120], [75, 130], [80, 60], [83, 0]],
  [[70, 270], [80, 290], [89, 270]],
  [[70, 160], [76, 170], [82, 100], [86, 0]],
];
const isoControlNorth = [[71, 1550], [76, 1480], [81, 1370], [85, 1170], [89, 1000]];
const isoBgc100North = [[72, 1830], [80, 1700], [89, 1480]];
const isoBgc500North = [[72, 2060], [78, 1950], [84, 1850], [89, 1830]];
const isoBgc1000North = [[72, 1750], [78, 1650], [82, 1600], [85, 1450], [89, 1370]];
const isoBgc2000North = [[72, 1600], [78, 1250], [83, 980], [89, 950]];
const isoRad100 = [
  [[-35, 0], [-27, 200], [-19, 410], [-12, 300], [-6, 210], [-2, 250], [3, 170], [8, 100], [14, 230], [21, 400], [30, 330], [39, 250], [46, 130], [52, 40]],
  [[-48, 0], [-42, 320], [-35, 660], [-28, 690], [-21, 660], null, [-10, 460], [-6, 400], [0, 360], [8, 320], [13, 420], [19, 550], [25, 630], [31, 660], [38, 590], [46, 400], [52, 200], [54, 135], [57, 200], [59, 320]],
  [[-52, 0], [-48, 400], [-44, 680], [-40, 880], [-32, 960], [-25, 975], null, [-8, 830], [4, 770], [12, 760], [19, 750], [28, 790], [37, 845], [44, 790], [50, 700], [55, 660], [57, 720], [59, 810]],
  [[-77, 120], [-70, 110], [-62, 115], [-60, 130], [-56, 250], [-54, 420], [-52, 620], [-48, 1070], [-44, 1240], [-40, 1330], [-31, 1430], null, [-6, 1285], [5, 1285], [19, 1295], [30, 1340], [40, 1390], [47, 1350], [52, 1295], [56, 1310], [59, 1330]],
  [[-73, 3220], [-69, 3000], [-65.6, 2870], [-63, 2900], [-60, 3050]],
  [[-44.4, 4740], [-38, 4850], [-33, 4960]],
  [[72, 2230], [81, 2230], [90, 2180]],
  [[72, 620], [80, 590], [90, 510]],
  [[72, 300], [82, 340], [90, 290]],
  [[72, 200], [82, 230], [90, 170]],
  [[72, 90], [82, 110], [90, 70]],
];
const isoRad500 = [
  [[-35, 0], [-27, 260], [-19, 520], [-12, 350], [-6, 210], [-1, 270], [3, 190], [8, 120], [15, 270], [22, 460], [31, 390], [41, 310], [47, 170], [52, 45]],
  [[-48, 0], [-44, 300], [-40, 570], [-35, 740], [-29, 790], [-24, 790], [-14, 720], null, [-2, 610], [6, 570], [17, 550], [24, 620], [31, 680], [39, 580], [46, 420], [52, 180], [55, 80], [57, 250], [59, 570]],
  [[-52, 0], [-48, 570], [-43, 850], [-38, 1020], [-30, 1150], [-26, 1150], null, [-10, 1010], [-6, 1000], [6, 1000], [17, 1000], [28, 1040], [39, 1090], [46, 1010], [53, 900], [56, 940], [59, 1050]],
  [[-76, 120], [-68, 110], [-60, 120], [-56, 270], [-54, 600], [-52, 1020], [-49, 1300], [-46, 1470], [-42, 1590], [-38, 1650], [-34, 1670], null, [-20, 1665], [-2, 1650], [17, 1650], [27, 1680], [37, 1700], [48, 1680], [58, 1650]],
  [[72, 1690], [80, 1690], [85, 1600], [89, 1500]],
  [[72, 400], [90, 430]],
  [[72, 270], [90, 290]],
  [[72, 160], [90, 170]],
  [[72, 80], [90, 90]],
];
const isoRad1000 = [
  [[-33, 0], [-26, 260], [-19, 520], [-12, 350], [-6, 225], [-1, 260], [3, 180], [8, 110], [15, 270], [22, 460], [31, 380], [41, 300], [47, 160], [52, 40]],
  [[-50, 0], [-46, 280], [-42, 560], [-36, 760], [-31, 840], [-24, 850], [-14, 780], null, [-1, 650], [6, 600], [17, 580], [24, 630], [31, 690], [39, 580], [46, 410], [52, 170], [55, 75], [57, 250], [59, 560]],
  [[-66, 0], [-60, 150], [-54, 520], [-50, 900], [-44, 1120], [-40, 1200], [-31, 1210], [-26, 1210], null, [-10, 1030], [-6, 1010], [6, 1020], [17, 1025], [28, 1080], [39, 1160], [46, 1060], [53, 960], [56, 1030], [59, 1120]],
  [[-76, 230], [-72, 130], [-67, 110], [-62, 190], [-60, 225], [-56, 670], [-53, 1200], [-50, 1650], [-46, 1790], [-38, 1870], [-34, 1880], null, [-20, 1875], [-6, 1880], [17, 1885], [28, 1910], [40, 1945], [50, 1910], [58, 1855]],
  [[72, 640], [78, 650], [81, 590], [85, 650], [89, 640]],
  [[72, 300], [90, 300]],
  [[72, 190], [90, 190]],
  [[72, 110], [90, 100]],
];
const isoRad2000 = [
  [[-34, 0], [-27, 260], [-21, 520], [-14, 380], [-6, 225], [-2, 300], [4, 200], [12, 130], [18, 280], [24, 450], [32, 400], [39, 340], [44, 220], [50, 75], [53, 20]],
  [[-50, 0], [-46, 300], [-44, 560], [-40, 740], [-36, 850], [-28, 850], [-22, 820], [-14, 720], null, [5, 610], [12, 610], [22, 640], [30, 690], [36, 710], [41, 560], [44, 340], [50, 130], [53, 75], [56, 250], [58, 600]],
  [[-66, 0], [-60, 100], [-57, 190], [-53, 490], [-48, 900], [-43, 1080], [-38, 1200], [-30, 1220], null, [-9, 1060], [0, 1050], [10, 1050], [21, 1050], [30, 1110], [36, 1180], [44, 1100], [53, 990], [56, 1050], [58, 1120]],
  [[-74, 0], [-71, 190], [-66, 200], [-61, 190], [-57, 560], [-54, 1460], [-50, 1830], [-46, 1950], [-40, 2040], [-32, 2050], null, [-12, 2045], [0, 2040], [12, 2035], [24, 2020], [35, 2060], [42, 2100], [50, 2090], [58, 2040]],
  [[72, 580], [80, 600], [89, 580]],
  [[72, 260], [90, 300]],
  [[72, 150], [90, 75]],
  [[72, 90], [85, 50], [88, 0]],
];
// [text, lat, depth, angle]
const labelsControl = [['27.0', -3, 700, 0], ['27.5', -19, 1370, -6]];
const labelsBgc = [['27.0', -3, 710, -6], ['27.5', -20, 1340, -10]];
const labelsRad100 = [['26.5', -15, 560, -25], ['27.0', -16, 860, -20], ['27.5', -18, 1370, -8]];
const labelsRad500 = [['26.5', -8, 640, -15], ['27.0', -18, 1070, -15], ['27.5', -27, 1670, -8]];
const labelsRad1000 = [['26.5', -7, 690, -15], ['27.0', -18, 1120, -15], ['27.5', -27, 1870, -8]];
const labelsRad2000 = [['26.5', -4, 640, -5], ['27.0', -19, 1160, -8], ['27.5', -22, 2060, -3]];

// ---- pathway arrows in the tCO2 anomaly panels ----
const orangeArrow = [[-67.6, 225], [-67.2, 1000], [-66.6, 1745], [-63, 2250], [-55, 2750], [-47, 3080]];
const redArrowDown = [[-51.4, 360], [-47, 700], [-43, 990]];
const redArrowAcross = [[-36.3, 1160], [-25, 1100], [-15, 1000]];

// ---- layout of the page ----
const rowLabels = [['Control', '', 293], ['100', 'th', 668], ['500', 'th', 1045], ['1000', 'th', 1431], ['2000', 'th', 1795]];
const rowBoxTops = [121.7, 505, 884, 1271, 1654];
const colLeftsUpper = [160, 624, 1091, 1556];
const colLeftsLower = [164, 628.6, 1095, 1560];
const titleCentres = [312, 737, 1261, 1698];

const panelTable = [
  [0, 0, 'temp', fhControl, tempControl, [...isoControl, isoControlNorth], labelsControl, '#111'],
  [0, 2, 'dic', fcControl, dicControl, [...isoControl, isoControlNorth], labelsBgc, '#111'],
  [1, 0, 'temp', fhRad100, tempRad100, isoRad100, labelsRad100, '#111'],
  [1, 1, 'dTemp', dfhRad100, dTempRad100, isoRad100, labelsRad100, '#111'],
  [1, 2, 'dic', fcBgc100, dicBgc100, [...isoControl, isoBgc100North], labelsBgc, '#111'],
  [1, 3, 'dDic', dfcBgc100, dDicBgc100, [...isoControl, isoBgc100North], labelsBgc, '#111'],
  [2, 0, 'temp', fhRad500, tempRad500, isoRad500, labelsRad500, '#111'],
  [2, 1, 'dTemp', dfhRad500, dTempRad500, isoRad500, labelsRad500, '#111'],
  [2, 2, 'dic', fcBgc500, dicBgc500, [...isoControl, isoBgc500North], labelsBgc, '#22224a'],
  [2, 3, 'dDic', dfcBgc500, dDicBgc500, [...isoControl, isoBgc500North], labelsBgc, '#111'],
  [3, 0, 'temp', fhRad1000, tempRad1000, isoRad1000, labelsRad1000, '#111'],
  [3, 1, 'dTemp', dfhRad1000, dTempRad1000, isoRad1000, labelsRad1000, '#111'],
  [3, 2, 'dic', fcBgc1000, dicBgc1000, [...isoControl, isoBgc1000North], labelsBgc, '#1c1c70'],
  [3, 3, 'dDic', dfcBgc1000, dDicBgc1000, [...isoControl, isoBgc1000North], labelsBgc, '#111'],
  [4, 0, 'temp', fhRad2000, tempRad2000, isoRad2000, labelsRad2000, '#111'],
  [4, 1, 'dTemp', dfhRad2000, dTempRad2000, isoRad2000, labelsRad2000, '#111'],
  [4, 2, 'dic', fcBgc2000, dicBgc2000, [...isoControl, isoBgc2000North], labelsBgc, '#1c1c80'],
  [4, 3, 'dDic', dfcBgc2000, dDicBgc2000, [...isoControl, isoBgc2000North], labelsBgc, '#111'],
];
const kinds = {
  temp: { min: 0, step: 0.75, colors: rainbowColors, ticks: tempTicks, fluxMax: 80, tipTop: '#a00040', tipBottom: '#001070', fmt: d3.format('d') },
  dic: { min: 2100, step: 7.5, colors: rainbowColors, ticks: dicTicks, fluxMax: 40, tipTop: '#a00040', tipBottom: '#001070', fmt: d3.format('d') },
  dTemp: { min: 0, step: 0.15, colors: deltaColors, ticks: dTempTicks, fluxMax: 30, tipTop: '#4a9010', tipBottom: '#5a00b0', fmt: d3.format('.1f') },
  dDic: { min: 0, step: 10, colors: deltaColors, ticks: dDicTicks, fluxMax: 30, tipTop: '#4a9010', tipBottom: '#5a00b0', fmt: d3.format('d') },
};

const SANS = '"Liberation Sans", Arimo, sans-serif';
const FRAME = '#5a5a5a';
const INK = '#555';
const UP = 8;

function smoothField(field) {
  const nx = fieldLats.length, ny = fieldDepths.length;
  const w = (nx - 1) * UP + 1, h = (ny - 1) * UP + 1;
  const data = new Float64Array(w * h);
  for (let j = 0; j < h; j++) {
    const fy = j / UP, j0 = Math.min(Math.floor(fy), ny - 2), ty = fy - j0;
    for (let i = 0; i < w; i++) {
      const fx = i / UP, i0 = Math.min(Math.floor(fx), nx - 2), tx = fx - i0;
      data[j * w + i] =
        (1 - ty) * ((1 - tx) * field[j0][i0] + tx * field[j0][i0 + 1]) +
        ty * ((1 - tx) * field[j0 + 1][i0] + tx * field[j0 + 1][i0 + 1]);
    }
  }
  d3.blur2({ data, width: w, height: h }, 2.5);
  return { data, w, h };
}

function styleAxis(g) {
  g.attr('font-size', 17.5).attr('font-family', SANS).attr('color', FRAME);
  g.selectAll('text').attr('fill', INK);
  g.selectAll('line,path').attr('stroke-width', 1.5);
  return g;
}

function drawPanel(svg, spec, idx) {
  const [row, col, kindName, flux, field, isos, labels, isoColor] = spec;
  const kind = kinds[kindName];
  const left = (row < 2 ? colLeftsUpper : colLeftsLower)[col];
  const right = left + 306;
  const boxTop = rowBoxTops[row];
  const boxBottom = boxTop + 61.7;
  const mainTop = boxTop + 74;
  const mainBottom = mainTop + 245;
  const g = svg.append('g').style('filter', 'blur(0.45px)');

  const x = d3.scaleLinear().domain([-89, 89]).range([left, right]);
  const y = d3.scaleLinear().domain([0, 5500]).range([mainTop, mainBottom]);
  const yFlux = d3.scaleLinear().domain([-kind.fluxMax, kind.fluxMax]).range([boxBottom, boxTop]);

  // filled section, masked by the bathymetry
  const clipId = `ocean-${idx}`;
  const area = d3.area().curve(d3.curveStepAfter).x((d) => x(d[0])).y0(mainTop).y1((d) => y(d[1]));
  const clip = g.append('clipPath').attr('id', clipId);
  clip.append('path').attr('d', area(atlanticLats.map((d, i) => [d, atlanticDepths[i]])));
  clip.append('path').attr('d', area(arcticLats.map((d, i) => [d, arcticDepths[i]])));

  const { data, w, h } = smoothField(field);
  const latAt = d3.scaleLinear().domain(d3.range(fieldLats.length)).range(fieldLats);
  const depthAt = d3.scaleLinear().domain(d3.range(fieldDepths.length)).range(fieldDepths);
  const toPixels = d3.geoTransform({
    point(px, py) {
      const ix = Math.max(0, Math.min(fieldLats.length - 1, (px - 0.5) / UP));
      const iy = Math.max(0, Math.min(fieldDepths.length - 1, (py - 0.5) / UP));
      this.stream.point(x(latAt(ix)), y(depthAt(iy)));
    },
  });
  const geo = d3.geoPath(toPixels);
  const contours = d3.contours().size([w, h]);
  const fill = g.append('g').attr('clip-path', `url(#${clipId})`);
  fill.append('rect').attr('x', left).attr('y', mainTop).attr('width', right - left).attr('height', 245).attr('fill', kind.colors[0]);
  kind.colors.forEach((c, i) => {
    if (i === 0) return;
    const shape = contours.contour(data, kind.min + i * kind.step);
    if (shape.coordinates.length) fill.append('path').attr('d', geo(shape)).attr('fill', c);
  });

  // isopycnals and their labels
  const isoLine = d3.line().defined((d) => d !== null).curve(d3.curveMonotoneX).x((d) => x(d[0])).y((d) => y(d[1]));
  g.selectAll('.iso').data(isos).enter().append('path').attr('class', 'iso')
    .attr('d', isoLine).attr('fill', 'none').attr('stroke', isoColor).attr('stroke-width', 1.7);
  g.selectAll('.iso-label').data(labels).enter().append('text').attr('class', 'iso-label')
    .attr('text-anchor', 'middle').attr('dy', '0.36em')
    .attr('transform', (d) => `translate(${x(d[1])},${y(d[2])}) rotate(${d[3]})`)
    .attr('font-family', SANS).attr('font-size', 18).attr('fill', isoColor).text((d) => d[0]);

  // arrows
  if (kindName === 'dDic') {
    const arrow = d3.line().curve(d3.curveBasis).x((d) => x(d[0])).y((d) => y(d[1]));
    g.append('path').attr('d', arrow(orangeArrow)).attr('fill', 'none').attr('stroke', '#ffb000').attr('stroke-width', 3.2).attr('marker-end', 'url(#head-orange)');
    g.append('path').attr('d', arrow(redArrowDown)).attr('fill', 'none').attr('stroke', '#f4001c').attr('stroke-width', 2.6).attr('marker-end', 'url(#head-red)');
    g.append('path').attr('d', arrow(redArrowAcross)).attr('fill', 'none').attr('stroke', '#f4001c').attr('stroke-width', 2.6).attr('marker-end', 'url(#head-red)');
  }

  // flux strip
  const fluxClip = `flux-${idx}`;
  g.append('clipPath').attr('id', fluxClip).append('rect').attr('x', left).attr('y', boxTop).attr('width', 306).attr('height', 61.7 + 6);
  const fluxLine = d3.line().defined((d) => d[1] !== null).curve(d3.curveMonotoneX).x((d) => x(d[0])).y((d) => yFlux(d[1]));
  g.append('path').datum(fluxLats.map((d, i) => [d, flux[i]])).attr('d', fluxLine)
    .attr('fill', 'none').attr('stroke', '#4a4a4a').attr('stroke-width', 1.6).attr('clip-path', `url(#${fluxClip})`);
  g.append('line').attr('x1', left).attr('x2', right).attr('y1', yFlux(0)).attr('y2', yFlux(0)).attr('stroke', '#444').attr('stroke-width', 1.6);

  // axes
  const xTicks = d3.range(-80, 81, 20);
  const m = kind.fluxMax;
  const latFmt = (d) => (d % 40 !== 0 ? '' : d === 0 ? '0°' : `${Math.abs(d)}°${d < 0 ? 'S' : 'N'}`);
  const axis = (gen, tx, ty) => styleAxis(g.append('g').attr('transform', `translate(${tx},${ty})`).call(gen));
  axis(d3.axisTop(x).tickValues(xTicks).tickSize(6).tickSizeOuter(0).tickFormat(''), 0, boxTop);
  axis(d3.axisBottom(x).tickValues(xTicks).tickSize(6).tickSizeOuter(0).tickFormat(''), 0, boxBottom);
  axis(d3.axisLeft(yFlux).tickValues([-m, -m / 2, 0, m / 2, m]).tickSize(5).tickPadding(8).tickSizeOuter(0)
    .tickFormat((d) => (d === 0 ? '0.' : d === m ? `${m}.` : d === -m ? `\u2212${m}.` : '')), left, 0);
  axis(d3.axisRight(yFlux).tickValues([-m, -m / 2, 0, m / 2, m]).tickSize(5).tickSizeOuter(0).tickFormat(''), right, 0);
  axis(d3.axisTop(x).tickValues(xTicks).tickSize(6).tickSizeOuter(0).tickFormat(''), 0, mainTop)
    .select('.domain').attr('stroke-width', 2.4);
  axis(d3.axisBottom(x).tickValues(xTicks).tickSize(7).tickPadding(11).tickSizeOuter(0).tickFormat(latFmt), 0, mainBottom)
    .select('.domain').attr('stroke-width', 2);
  axis(d3.axisLeft(y).tickValues(d3.range(0, 5001, 500)).tickSize(7).tickPadding(10).tickSizeOuter(0)
    .tickFormat((d) => (d % 1000 === 0 ? String(d) : '')), left, 0);
  axis(d3.axisRight(y).tickValues(d3.range(0, 5001, 500)).tickSize(6).tickSizeOuter(0).tickFormat(''), right, 0);

  // colour bar
  const cbLeft = right + 12;
  const cbWidth = 23;
  const cbTop = mainTop + 11.5;
  const cbBottom = mainTop + 232.5;
  const n = kind.colors.length;
  const yc = d3.scaleLinear().domain([kind.min, kind.min + n * kind.step]).range([cbBottom, cbTop]);
  const cb = g.append('g');
  kind.colors.forEach((c, i) => {
    cb.append('rect').attr('x', cbLeft).attr('width', cbWidth)
      .attr('y', yc(kind.min + (i + 1) * kind.step)).attr('height', yc(kind.min + i * kind.step) - yc(kind.min + (i + 1) * kind.step))
      .attr('fill', c);
    if (i > 0) cb.append('line').attr('x1', cbLeft).attr('x2', cbLeft + cbWidth)
      .attr('y1', yc(kind.min + i * kind.step)).attr('y2', yc(kind.min + i * kind.step))
      .attr('stroke', '#333').attr('stroke-width', n > 20 ? 1.3 : 1.5).attr('stroke-opacity', 0.75);
  });
  const mid = cbLeft + cbWidth / 2;
  cb.append('path').attr('d', `M${cbLeft},${cbTop}L${mid},${mainTop + 0.5}L${cbLeft + cbWidth},${cbTop}Z`).attr('fill', kind.tipTop);
  cb.append('path').attr('d', `M${cbLeft},${cbBottom}L${mid},${mainBottom}L${cbLeft + cbWidth},${cbBottom}Z`).attr('fill', kind.tipBottom);
  const cbAxis = cb.append('g').attr('transform', `translate(${cbLeft + cbWidth},0)`)
    .call(d3.axisRight(yc).tickValues(kind.ticks).tickSize(0).tickPadding(11).tickFormat(kind.fmt));
  styleAxis(cbAxis);
  cbAxis.select('.domain').remove();
}

function addTitle(svg, cx, base, size, parts) {
  const t = svg.append('text').attr('x', cx).attr('y', base).attr('text-anchor', 'middle')
    .attr('font-family', SANS).attr('font-size', size).attr('fill', '#000');
  parts.forEach(([txt, fs, dy]) => {
    t.append('tspan').attr('font-size', fs).attr('dy', dy).text(txt);
  });
}

export default function App() {
  const svgRef = useRef();

  useEffect(() => {
    const svg = d3.select(svgRef.current);
    svg.selectAll('*').remove();
    svg.attr('width', 1946).attr('height', 2005);

    const defs = svg.append('defs');
    const head = (id, color, size) => {
      defs.append('marker').attr('id', id).attr('viewBox', '0 0 10 10').attr('refX', 7).attr('refY', 5)
        .attr('markerUnits', 'userSpaceOnUse').attr('markerWidth', size).attr('markerHeight', size).attr('orient', 'auto')
        .append('path').attr('d', 'M0,0L10,5L0,10Z').attr('fill', color);
    };
    head('head-orange', '#ffb000', 16);
    head('head-red', '#f4001c', 15);

    panelTable.forEach((spec, i) => drawPanel(svg, spec, i));

    // column titles
    const sub = (s) => [s, 31, 9];
    const back = (s) => [s, 45, -9];
    addTitle(svg, titleCentres[0], 33, 45, [['F', 45, 0], sub('H'), back(' and T'), sub('O')]);
    addTitle(svg, titleCentres[1], 33, 45, [['\u0394F', 45, 0], sub('H'), back(' and \u0394T'), sub('O')]);
    addTitle(svg, titleCentres[2], 33, 45, [['F', 45, 0], sub('C'), back(' and tCO'), sub('2')]);
    addTitle(svg, titleCentres[3], 33, 45, [['\u0394F', 45, 0], sub('C'), back(' and \u0394tCO'), sub('2')]);
    ['RAD', 'RAD', 'BGC', 'BGC'].forEach((name, i) => {
      addTitle(svg, titleCentres[i], 86, 44, [[`(${name} `, 44, 0], ['2 \u00d7 CO2', 29, -16], [')', 44, 16]]);
    });

    // row labels
    rowLabels.forEach(([main, sup, cy]) => {
      const t = svg.append('text').attr('transform', `translate(41,${cy}) rotate(-90)`).attr('text-anchor', 'middle')
        .attr('font-family', SANS).attr('font-size', 52).attr('fill', '#000');
      t.append('tspan').text(main);
      if (sup) {
        t.append('tspan').attr('font-size', 31).attr('dy', -19).text(sup);
        t.append('tspan').attr('dy', 19).text(' year');
      }
    });
  }, []);

  return <svg ref={svgRef} style={{ position: 'absolute', left: 0, top: 0, display: 'block', background: '#fff' }}></svg>;
}
